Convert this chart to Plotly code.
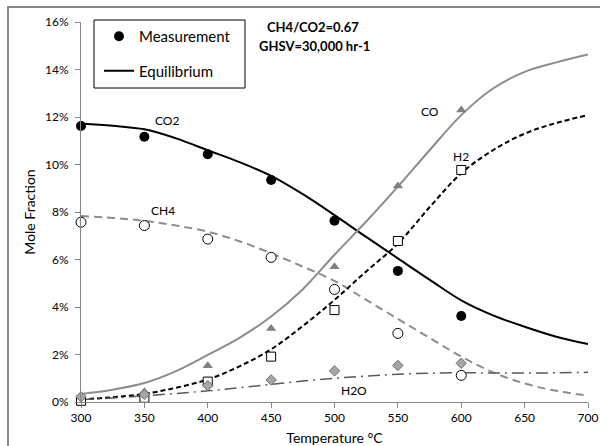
import plotly.graph_objects as go

# ---------------- data ----------------
temp_meas = [300, 350, 400, 450, 500, 550, 600]
co2_meas = [11.62, 11.17, 10.43, 9.35, 7.63, 5.52, 3.62]
ch4_meas = [7.57, 7.43, 6.86, 6.09, 4.74, 2.89, 1.12]
co_meas = [0.05, 0.43, 1.53, 3.10, 5.70, 9.10, 12.30]
h2_meas = [0.05, 0.18, 0.86, 1.91, 3.87, 6.78, 9.77]
h2o_meas = [0.22, 0.32, 0.69, 0.93, 1.31, 1.54, 1.63]

temp_eq = [300, 325, 350, 375, 400, 425, 450, 475, 500, 525, 550, 575, 600, 625, 650, 675, 700]
co2_eq = [11.73, 11.63, 11.48, 11.10, 10.60, 10.10, 9.52, 8.75, 7.87, 6.95, 6.05, 5.15, 4.28, 3.65, 3.17, 2.75, 2.44]
ch4_eq = [7.83, 7.75, 7.63, 7.43, 7.17, 6.77, 6.26, 5.70, 5.10, 4.30, 3.50, 2.70, 1.91, 1.25, 0.78, 0.47, 0.27]
co_eq = [0.34, 0.52, 0.80, 1.30, 1.98, 2.70, 3.60, 4.75, 6.20, 7.60, 9.07, 10.60, 12.08, 13.20, 13.90, 14.30, 14.63]
h2_eq = [0.11, 0.20, 0.34, 0.60, 0.95, 1.50, 2.22, 3.20, 4.30, 5.50, 6.67, 8.20, 9.63, 10.60, 11.30, 11.75, 12.08]
h2o_eq = [0.10, 0.17, 0.26, 0.36, 0.47, 0.60, 0.74, 0.88, 1.00, 1.09, 1.17, 1.21, 1.23, 1.22, 1.22, 1.23, 1.25]

x_ticks = [300, 350, 400, 450, 500, 550, 600, 650, 700]
y_ticks = [0, 2, 4, 6, 8, 10, 12, 14, 16]
y_tick_labels = ["0%", "2%", "4%", "6%", "8%", "10%", "12%", "14%", "16%"]

FONT = "Lato"
GRAY = "#8c8c8c"

fig = go.Figure()

# equilibrium curves
fig.add_trace(go.Scatter(x=temp_eq, y=co2_eq, mode="lines", line=dict(color="black", width=2, shape="spline"), showlegend=False))
fig.add_trace(go.Scatter(x=temp_eq, y=ch4_eq, mode="lines", line=dict(color=GRAY, width=2, dash="8px,5px", shape="spline"), showlegend=False))
fig.add_trace(go.Scatter(x=temp_eq, y=co_eq, mode="lines", line=dict(color=GRAY, width=2, shape="spline"), showlegend=False))
fig.add_trace(go.Scatter(x=temp_eq, y=h2_eq, mode="lines", line=dict(color="black", width=2, dash="5px,3px", shape="spline"), showlegend=False))
fig.add_trace(go.Scatter(x=temp_eq, y=h2o_eq, mode="lines", line=dict(color="#5a5a5a", width=1.5, dash="12px,5px,2px,5px", shape="spline"), showlegend=False))

# measurements
fig.add_trace(go.Scatter(x=temp_meas, y=co2_meas, mode="markers", cliponaxis=False,
                         marker=dict(symbol="circle", size=10, color="black"), showlegend=False))
fig.add_trace(go.Scatter(x=temp_meas, y=ch4_meas, mode="markers", cliponaxis=False,
                         marker=dict(symbol="circle", size=10, color="white", line=dict(color="black", width=1)), showlegend=False))
fig.add_trace(go.Scatter(x=temp_meas, y=co_meas, mode="markers", cliponaxis=False,
                         marker=dict(symbol="triangle-up", size=9, color="#808080"), showlegend=False))
fig.add_trace(go.Scatter(x=temp_meas, y=h2_meas, mode="markers", cliponaxis=False,
                         marker=dict(symbol="square", size=9, color="white", line=dict(color="black", width=1)), showlegend=False))
fig.add_trace(go.Scatter(x=temp_meas, y=h2o_meas, mode="markers", cliponaxis=False,
                         marker=dict(symbol="diamond", size=8, color="#a6a6a6", line=dict(color="#6e6e6e", width=1)), showlegend=False))

# legend entries
fig.add_trace(go.Scatter(x=[None], y=[None], mode="markers", name="Measurement", legendgroup="a",
                         marker=dict(symbol="circle", size=10, color="black")))
fig.add_trace(go.Scatter(x=[None], y=[None], mode="lines", name="Equilibrium", legendgroup="b",
                         line=dict(color="black", width=2)))

def px2x(p):
    return (p - 81) / 507.0

def py2y(p):
    return (402 - p) / 380.0

shapes = [
    # legend box
    dict(type="rect", xref="paper", yref="paper", x0=px2x(94), x1=px2x(245), y0=py2y(88), y1=py2y(20),
         line=dict(color="black", width=1), fillcolor="white", layer="below"),
    # chart-area frame (only top and left edges are inside the picture)
    dict(type="rect", xref="paper", yref="paper", x0=px2x(8), x1=px2x(620), y0=py2y(470), y1=py2y(7),
         line=dict(color="#878787", width=2), fillcolor="rgba(0,0,0,0)", layer="above"),
]

annotations = [
    dict(x=483, y=15.79, xref="x", yref="y", text="<b>CH4/CO2=0.67</b>", showarrow=False,
         font=dict(family=FONT, size=13, color="black")),
    dict(x=484, y=14.99, xref="x", yref="y", text="<b>GHSV=30,000 hr-1</b>", showarrow=False,
         font=dict(family=FONT, size=13, color="black")),
    dict(x=368, y=11.87, xref="x", yref="y", text="CO2", showarrow=False, font=dict(family=FONT, size=12, color="black")),
    dict(x=365, y=8.08, xref="x", yref="y", text="CH4", showarrow=False, font=dict(family=FONT, size=12, color="black")),
    dict(x=575, y=12.25, xref="x", yref="y", text="CO", showarrow=False, font=dict(family=FONT, size=12, color="black")),
    dict(x=599.5, y=10.33, xref="x", yref="y", text="H2", showarrow=False, font=dict(family=FONT, size=12, color="black")),
    dict(x=515, y=0.48, xref="x", yref="y", text="H2O", showarrow=False, font=dict(family=FONT, size=12, color="black")),
]

fig.update_layout(
    width=600, height=446,
    margin=dict(l=81, r=12, t=22, b=44, autoexpand=False),
    paper_bgcolor="white", plot_bgcolor="white",
    font=dict(family=FONT, size=12, color="black"),
    shapes=shapes, annotations=annotations,
    legend=dict(x=px2x(99), y=py2y(20), xanchor="left", yanchor="top",
                bgcolor="rgba(0,0,0,0)", borderwidth=0, tracegroupgap=12,
                font=dict(family=FONT, size=15, color="black")),
    xaxis=dict(range=[300, 700], tickvals=x_ticks, showgrid=False, zeroline=False,
               showline=True, linecolor="#868686", linewidth=1,
               ticks="outside", ticklen=5, tickcolor="#868686",
               tickfont=dict(family=FONT, size=12, color="black"),
               title=dict(text="Temperature °C", standoff=9, font=dict(family=FONT, size=14))),
    yaxis=dict(range=[0, 16], tickvals=y_ticks, ticktext=y_tick_labels, showgrid=False, zeroline=False,
               showline=True, linecolor="#868686", linewidth=1,
               ticks="outside", ticklen=5, tickcolor="#868686", ticklabelstandoff=4,
               tickfont=dict(family=FONT, size=12, color="black"),
               title=dict(text="Mole Fraction", standoff=6, font=dict(family=FONT, size=14))),
)

fig.write_html("out.html", config={"displayModeBar": False},
               post_script="document.body.style.margin='0px';document.body.style.overflow='hidden';")
